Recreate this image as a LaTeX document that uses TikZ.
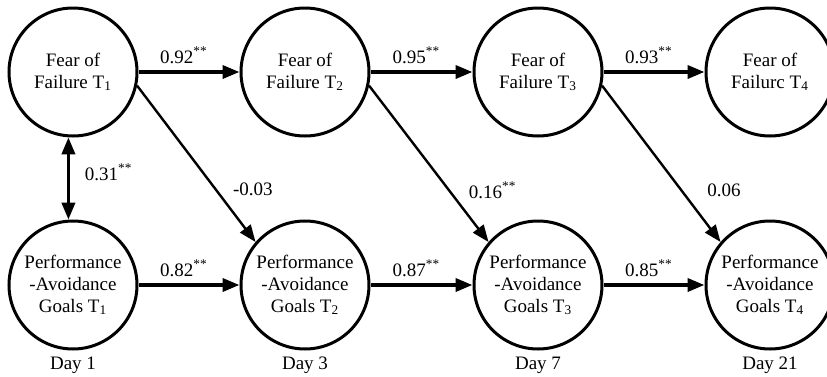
\documentclass[tikz,border=0pt]{standalone}
\usepackage{fontspec}
\setmainfont{Liberation Serif}
\usetikzlibrary{arrows.meta}

\begin{document}
\begin{tikzpicture}[x=0.5pt,y=-0.5pt,semithick,
  var/.style={circle,draw,line width=1.5pt,minimum size=64pt,inner sep=0pt,align=center,font=\fontsize{9.5}{11}\selectfont},
  coef/.style={font=\fontsize{9.5}{11}\selectfont},
  tip/.style={-{Triangle[length=8.5pt,width=6.5pt]}},
  stab/.style={tip,line width=1.8pt},
  cross/.style={tip,line width=1.2pt}]
\clip(0,0)rectangle(827,376);
% fear of failure
\node[var](F1)at(73,72){Fear of\\Failure T\textsubscript{1}};
\node[var](F2)at(305,72){Fear of\\Failure T\textsubscript{2}};
\node[var](F3)at(538,72){Fear of\\Failure T\textsubscript{3}};
\node[var](F4)at(770,72){Fear of\\Failurc T\textsubscript{4}};
% performance-avoidance goals
\node[var](P1)at(73,285){Performance\\-Avoidance\\Goals T\textsubscript{1}};
\node[var](P2)at(305,285){Performance\\-Avoidance\\Goals T\textsubscript{2}};
\node[var](P3)at(538,285){Performance\\-Avoidance\\Goals T\textsubscript{3}};
\node[var](P4)at(770,285){Performance\\-Avoidance\\Goals T\textsubscript{4}};
\node[coef](D1)at(73,365){Day 1};
\node[coef](D3)at(305,365){Day 3};
\node[coef](D7)at(538,365){Day 7};
\node[coef](D21)at(770,365){Day 21};
\draw[stab](F1)--(F2)node[coef,above,pos=.45]{0.92\textsuperscript{**}};
\draw[stab](F2)--(F3)node[coef,above,pos=.45]{0.95\textsuperscript{**}};
\draw[stab](F3)--(F4)node[coef,above,pos=.45]{0.93\textsuperscript{**}};
\draw[stab](P1)--(P2)node[coef,above,pos=.45]{0.82\textsuperscript{**}};
\draw[stab](P2)--(P3)node[coef,above,pos=.45]{0.87\textsuperscript{**}};
\draw[stab](P3)--(P4)node[coef,above,pos=.45]{0.85\textsuperscript{**}};
\draw[line width=1.8pt,{Triangle[length=8.5pt,width=6.5pt]}-{Triangle[length=8.5pt,width=6.5pt]}](F1.-94)--(P1.94)node[coef,midway,right=4pt,yshift=3pt]{0.31\textsuperscript{**}};
\draw[cross](F1.-12)--(P2.139)node[coef,pos=.66,right=5pt]{-0.03};
\draw[cross](F2.-12)--(P3.139)node[coef,pos=.67,right=6pt]{0.16\textsuperscript{**}};
\draw[cross](F3.-12)--(P4.139)node[coef,pos=.67,right=9pt]{0.06};
\end{tikzpicture}
\end{document}
